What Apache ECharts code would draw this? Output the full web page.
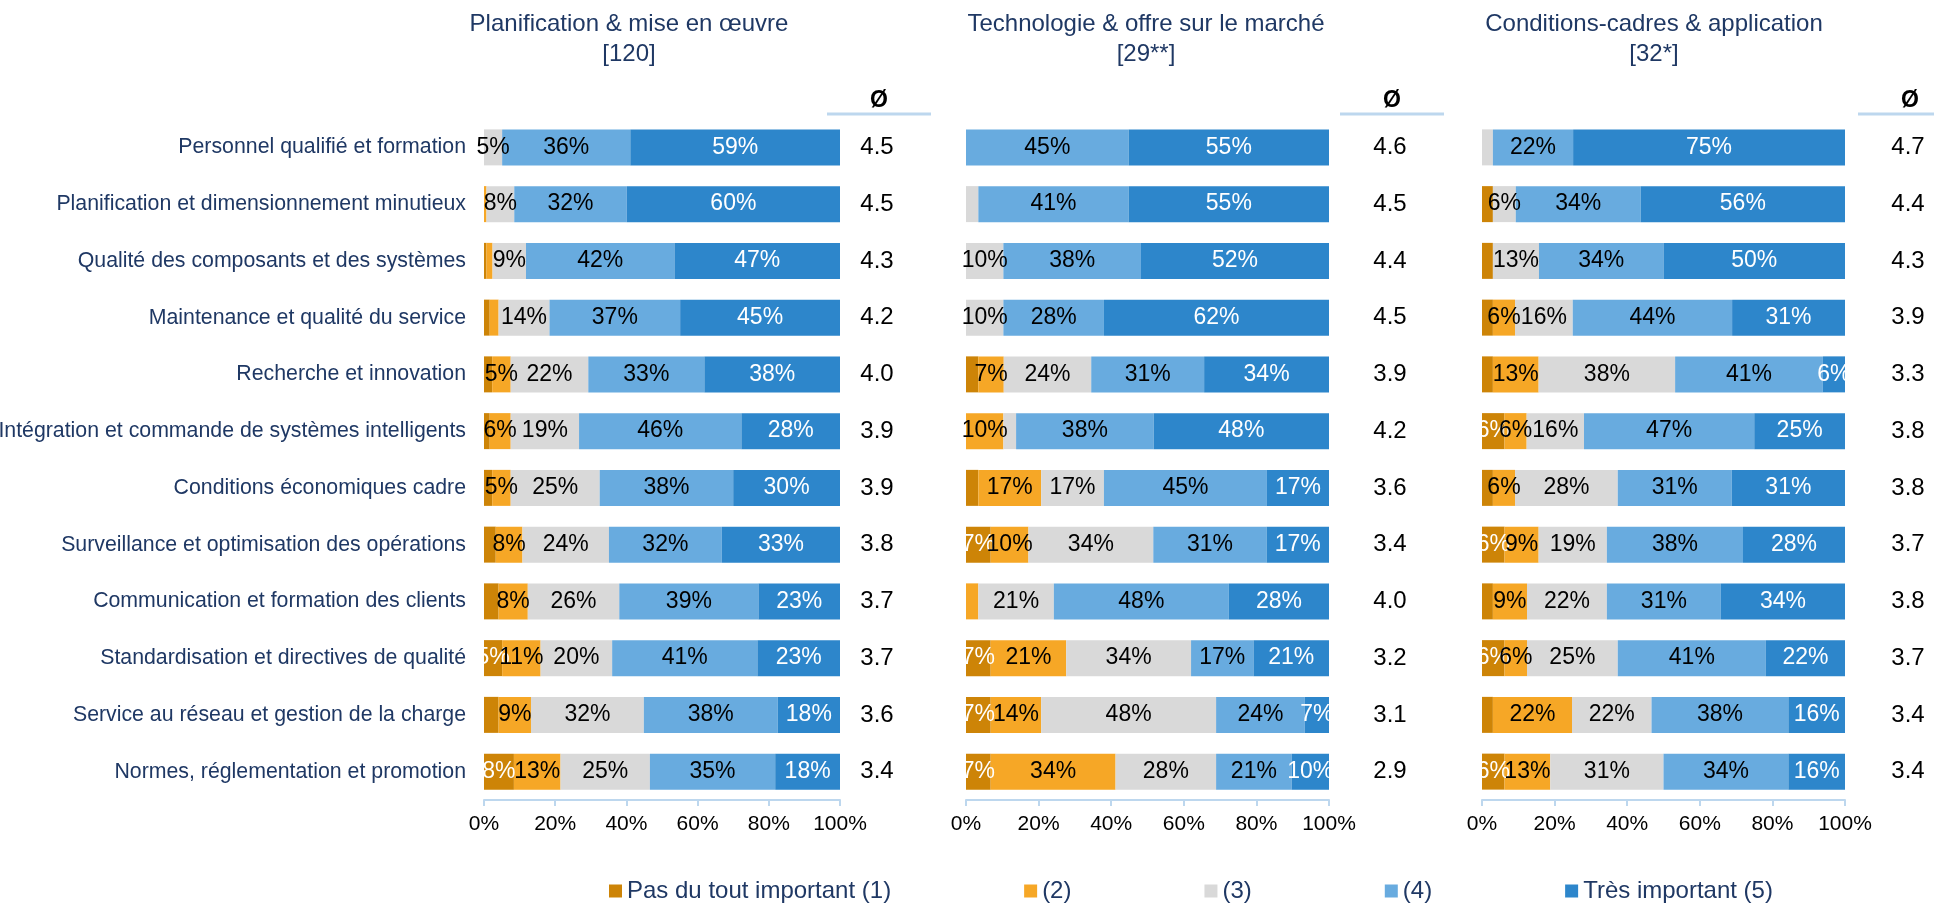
<!DOCTYPE html>
<html>
<head>
<meta charset="utf-8">
<script src="https://cdn.jsdelivr.net/npm/echarts@6/dist/echarts.min.js"></script>
<style>
  html, body { margin: 0; padding: 0; background: #fff; }
  #main { width: 1934px; height: 905px; }
</style>
</head>
<body>
<div id="main"></div>
<script>
// categories, top to bottom
var categories = [
  'Personnel qualifié et formation',
  'Planification et dimensionnement minutieux',
  'Qualité des composants et des systèmes',
  'Maintenance et qualité du service',
  'Recherche et innovation',
  'Intégration et commande de systèmes intelligents',
  'Conditions économiques cadre',
  'Surveillance et optimisation des opérations',
  'Communication et formation des clients',
  'Standardisation et directives de qualité',
  'Service au réseau et gestion de la charge',
  'Normes, réglementation et promotion'
];
var levels = ['Pas du tout important (1)', '(2)', '(3)', '(4)', 'Très important (5)'];
var panelTitles = [
  'Planification & mise en œuvre\n[120]',
  'Technologie & offre sur le marché\n[29**]',
  'Conditions-cadres & application\n[32*]'
];

// Planification & mise en oeuvre (shares in %)
var plan1 = [0, 0, 0.7, 1.6, 2.3, 1.6, 2.3, 3.3, 4.1, 5.1, 4.1, 8.4];
var plan2 = [0, 0.7, 1.7, 2.5, 5.2, 5.9, 5.2, 7.5, 8.2, 10.8, 9.1, 13.1];
var plan3 = [5.1, 7.8, 9.4, 14.3, 21.8, 19.2, 25.0, 24.3, 25.7, 20.1, 31.7, 25.1];
var plan4 = [36.0, 31.6, 41.7, 36.7, 32.6, 45.6, 37.5, 31.7, 39.1, 40.8, 37.6, 35.2];
var plan5 = [58.9, 59.9, 46.5, 44.9, 38.1, 27.7, 30.0, 33.2, 22.9, 23.2, 17.5, 18.2];
var planMean = ['4.5', '4.5', '4.3', '4.2', '4.0', '3.9', '3.9', '3.8', '3.7', '3.7', '3.6', '3.4'];

// Technologie & offre sur le marche
var tech1 = [0, 0, 0, 0, 3.4, 0, 3.4, 6.8, 0, 6.8, 6.8, 6.8];
var tech2 = [0, 0, 0, 0, 7.0, 10.3, 17.3, 10.4, 3.4, 20.8, 13.9, 34.4];
var tech3 = [0, 3.4, 10.3, 10.3, 24.1, 3.5, 17.3, 34.4, 20.8, 34.4, 48.2, 27.7];
var tech4 = [44.8, 41.4, 37.9, 27.7, 31.1, 37.9, 44.9, 31.2, 48.2, 17.2, 24.4, 20.8];
var tech5 = [55.2, 55.2, 51.8, 62.0, 34.4, 48.3, 17.1, 17.2, 27.6, 20.8, 6.7, 10.3];
var techMean = ['4.6', '4.5', '4.4', '4.5', '3.9', '4.2', '3.6', '3.4', '4.0', '3.2', '3.1', '2.9'];

// Conditions-cadres & application
var cond1 = [0, 3.0, 3.0, 3.0, 3.0, 6.2, 3.0, 6.2, 3.0, 6.2, 3.0, 6.2];
var cond2 = [0, 0, 0, 6.1, 12.6, 6.1, 6.1, 9.4, 9.4, 6.2, 21.8, 12.6];
var cond3 = [3.0, 6.3, 12.7, 15.9, 37.6, 15.8, 28.3, 18.8, 22.0, 25.0, 21.9, 31.2];
var cond4 = [22.1, 34.4, 34.3, 43.9, 40.7, 46.9, 31.4, 37.5, 31.4, 40.8, 37.7, 34.4];
var cond5 = [74.9, 56.3, 50.0, 31.1, 6.1, 25.0, 31.2, 28.1, 34.2, 21.8, 15.6, 15.6];
var condMean = ['4.7', '4.4', '4.3', '3.9', '3.3', '3.8', '3.8', '3.7', '3.8', '3.7', '3.4', '3.4'];

var colors = ['#cd8407', '#f6a726', '#d9d9d9', '#68abdf', '#2d86cb'];
var labelColors = ['#ffffff', '#000000', '#000000', '#000000', '#ffffff'];
var FONT = "'Liberation Sans', Arial, sans-serif";
var NAVY = '#1f3864';
var LINE = '#bdd7ee';

var panels = [
  { data: [plan1, plan2, plan3, plan4, plan5], mean: planMean, left: 484, width: 356, meanGap: 37, titleX: 624 },
  { data: [tech1, tech2, tech3, tech4, tech5], mean: techMean, left: 966, width: 363, meanGap: 61, titleX: 1141 },
  { data: [cond1, cond2, cond3, cond4, cond5], mean: condMean, left: 1482, width: 363, meanGap: 63, titleX: 1649 }
];

var chart = echarts.init(document.getElementById('main'), null, { renderer: 'canvas' });

var grids = [], xAxes = [], yAxes = [], series = [], titles = [], graphics = [];

panels.forEach(function (p, i) {
  grids.push({ left: p.left, width: p.width, top: 119, height: 681, containLabel: false, outerBoundsMode: 'none' });
  titles.push({
    text: panelTitles[i],
    left: p.titleX,
    top: 4,
    textAlign: 'center',
    textStyle: { fontFamily: FONT, fontSize: 24, fontWeight: 'normal', color: NAVY, lineHeight: 30 }
  });
  xAxes.push({
    type: 'value', gridIndex: i, min: 0, max: 100, interval: 20,
    axisLine: { show: true, lineStyle: { color: LINE, width: 2 } },
    axisTick: { show: true, length: 6, lineStyle: { color: LINE, width: 2 } },
    splitLine: { show: false },
    axisLabel: { formatter: '{value}%', fontFamily: FONT, fontSize: 21, color: '#000', margin: 14 }
  });
  yAxes.push({
    type: 'category', gridIndex: i, data: categories, inverse: true,
    axisLine: { show: false }, axisTick: { show: false },
    axisLabel: { show: i === 0, fontFamily: FONT, fontSize: 21.3, color: NAVY, margin: 18 }
  });
  yAxes.push({
    type: 'category', gridIndex: i, data: categories, inverse: true, position: 'right',
    axisLine: { show: false }, axisTick: { show: false },
    axisLabel: {
      align: 'center', margin: p.meanGap, fontFamily: FONT, fontSize: 24, color: '#000',
      formatter: function (v, idx) { return p.mean[idx]; }
    }
  });
  p.data.forEach(function (vals, k) {
    series.push({
      name: levels[k],
      type: 'bar',
      stack: 'panel' + i,
      xAxisIndex: i,
      yAxisIndex: 2 * i,
      barWidth: 36,
      data: vals,
      itemStyle: { color: colors[k] },
      label: {
        show: true, position: 'inside', fontFamily: FONT, fontSize: 23, color: labelColors[k],
        formatter: function (d) { var r = Math.round(d.value); return r >= 5 ? r + '%' : ''; }
      },
      emphasis: { disabled: true }
    });
  });
  // average column header
  var cx = p.left + p.width + p.meanGap + 2;
  graphics.push({
    type: 'text', x: cx, y: 101,
    style: { text: 'Ø', font: 'bold 23px ' + FONT, fill: '#000', textAlign: 'center', textVerticalAlign: 'middle' }
  });
  graphics.push({
    type: 'line',
    shape: { x1: cx - 52, y1: 114, x2: cx + 52, y2: 114 },
    style: { stroke: LINE, lineWidth: 3 }
  });
});

var option = {
  animation: false,
  backgroundColor: '#fff',
  color: colors,
  title: titles,
  grid: grids,
  xAxis: xAxes,
  yAxis: yAxes,
  legend: {
    data: levels,
    left: 609,
    top: 879,
    padding: 0,
    itemWidth: 13,
    itemHeight: 13,
    itemGap: 133,
    icon: 'rect',
    selectedMode: false,
    textStyle: { fontFamily: FONT, fontSize: 24, color: NAVY }
  },
  graphic: graphics,
  series: series
};

chart.setOption(option);
</script>
</body>
</html>
